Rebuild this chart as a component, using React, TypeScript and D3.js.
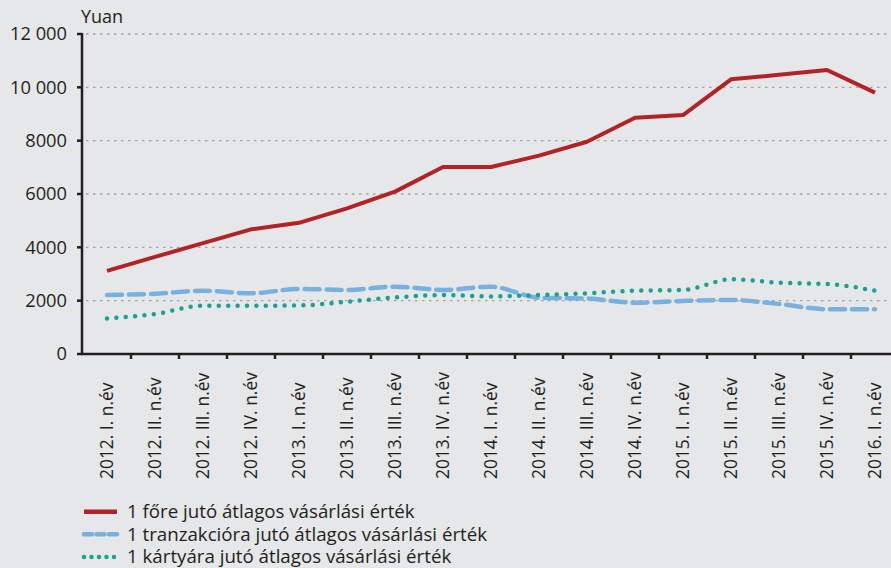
import React from "react";
import * as d3 from "d3";

const categories = [
  "2012. I. n.év", "2012. II. n.év", "2012. III. n.év", "2012. IV. n.év",
  "2013. I. n.év", "2013. II. n.év", "2013. III. n.év", "2013. IV. n.év",
  "2014. I. n.év", "2014. II. n.év", "2014. III. n.év", "2014. IV. n.év",
  "2015. I. n.év", "2015. II. n.év", "2015. III. n.év", "2015. IV. n.év",
  "2016. I. n.év",
];

const perCapita = [3120, 3640, 4160, 4675, 4920, 5460, 6090, 7010, 7010, 7440, 7960, 8860, 8960, 10300, 10470, 10650, 9800];
const perTransaction = [2210, 2260, 2370, 2275, 2440, 2400, 2525, 2400, 2525, 2110, 2080, 1925, 1990, 2025, 1875, 1680, 1680];
const perCard = [1330, 1500, 1810, 1810, 1820, 1960, 2120, 2210, 2160, 2210, 2275, 2375, 2400, 2800, 2675, 2625, 2375];

const yTicks = [0, 2000, 4000, 6000, 8000, 10000, 12000];
const tickLabel = (v: number) => (v >= 10000 ? d3.format(",")(v).replace(",", " ") : String(v));

const legendItems = [
  { label: "1 főre jutó átlagos vásárlási érték", color: "#b22327", dash: "none", cap: "butt" },
  { label: "1 tranzakcióra jutó átlagos vásárlási érték", color: "#78b1dd", dash: "8 4.5", cap: "round" },
  { label: "1 kártyára jutó átlagos vásárlási érték", color: "#15a394", dash: "0 7.5", cap: "round" },
];

const W = 891;
const H = 568;
const font = "'Open Sans', sans-serif";
const textColor = "#231f20";

export default function App() {
  const x = d3.scaleBand<string>().domain(categories).range([83, 83 + 48 * categories.length]);
  const y = d3.scaleLinear().domain([0, 12000]).range([354, 34]);
  const cx = (i: number) => (x(categories[i]) as number) + x.bandwidth() / 2;

  const straight = d3.line<number>().x((_, i) => cx(i)).y((d) => y(d));
  const smooth = d3.line<number>().x((_, i) => cx(i)).y((d) => y(d)).curve(d3.curveMonotoneX);

  return (
    <svg width={W} height={H} style={{ position: "absolute", left: 0, top: 0, background: "#e6e7e9" }}>
      <rect width={W} height={H} fill="#e6e7e9" />
      {yTicks.filter((t) => t > 0).map((t) => (
        <line key={t} x1={86} x2={W} y1={y(t)} y2={y(t)} stroke="#a3a3a3" strokeWidth={1.4} strokeDasharray="2.5 4.5" />
      ))}

      <path d={smooth(perTransaction) || ""} fill="none" stroke="#78b1dd" strokeWidth={4.5} strokeDasharray="15 7" strokeLinecap="round" />
      <path d={smooth(perCard) || ""} fill="none" stroke="#15a394" strokeWidth={4.5} strokeDasharray="0 9.4" strokeLinecap="round" />
      <path d={straight(perCapita) || ""} fill="none" stroke="#b22327" strokeWidth={4} strokeLinejoin="round" />

      {/* y axis */}
      <line x1={82} x2={82} y1={33} y2={355} stroke="#231f20" strokeWidth={2.5} />
      {yTicks.map((t) => (
        <g key={t}>
          <line x1={77} x2={82} y1={y(t)} y2={y(t)} stroke="#231f20" strokeWidth={2.5} />
          <text x={67} y={y(t)} dy="0.35em" textAnchor="end" fontFamily={font} fontSize={18.3} fill={textColor}>
            {tickLabel(t)}
          </text>
        </g>
      ))}
      <text x={81} y={22.5} fontFamily={font} fontSize={18} fill={textColor}>Yuan</text>

      {/* x axis */}
      <line x1={81} x2={W} y1={354} y2={354} stroke="#231f20" strokeWidth={2.5} />
      {categories.map((c, i) => (
        <g key={c}>
          <line x1={(x(c) as number) + 48} x2={(x(c) as number) + 48} y1={354} y2={359} stroke="#231f20" strokeWidth={2.5} />
          <text
            transform={`translate(${cx(i)},479) rotate(-90)`}
            dy="0.35em"
            textAnchor="start"
            fontFamily={font}
            fontSize={17.4}
            fill={textColor}
          >
            {c}
          </text>
        </g>
      ))}

      {/* legend */}
      {legendItems.map((it, i) => (
        <g key={it.label} transform={`translate(0,${511.7 + i * 22.6})`}>
          <line x1={84} x2={117} y1={0} y2={0} stroke={it.color} strokeWidth={4.5} strokeDasharray={it.dash} strokeLinecap={it.cap as any} />
          <text x={127} y={0} dy="0.35em" fontFamily={font} fontSize={18.7} fill={textColor}>
            {it.label}
          </text>
        </g>
      ))}
    </svg>
  );
}
